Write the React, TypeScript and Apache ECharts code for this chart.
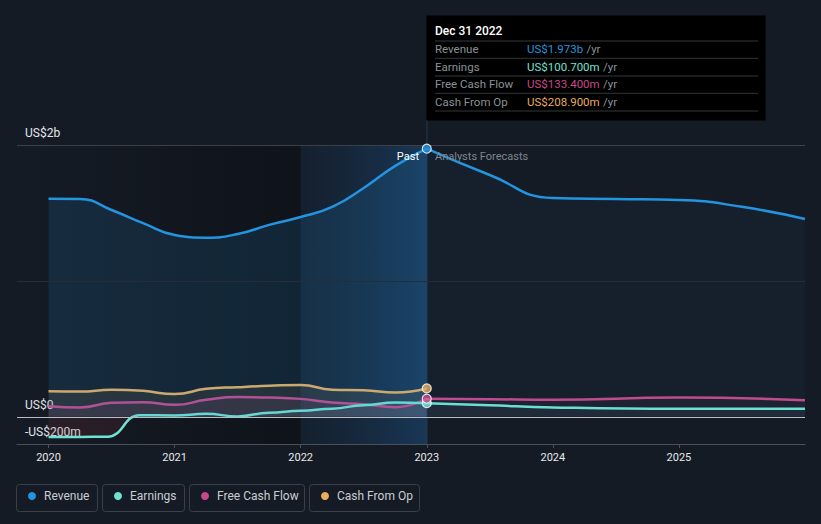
import React, { useEffect, useRef } from "react";
import * as echarts from "echarts";

// ---- data (US$ millions, x = fractional year) ----
const pastYears = [2020, 2020.25, 2020.5, 2020.75, 2021, 2021.25, 2021.5, 2021.75, 2022, 2022.25, 2022.5, 2022.75, 2023];
const revenuePast = [1605, 1603, 1522, 1425, 1338, 1318, 1345, 1412, 1470, 1544, 1684, 1846, 1973];
const cashFromOpPast = [188, 186, 199, 191, 167, 206, 218, 228, 235, 199, 196, 179, 208.9];
const fcfPast = [78, 69, 103, 108, 88, 125, 145, 142, 132, 105, 93, 71, 133.4];
const earningsPastYears = [2020, 2020.25, 2020.47, 2020.72, 2021, 2021.25, 2021.5, 2021.75, 2022, 2022.25, 2022.5, 2022.75, 2023];
const earningsPast = [-148, -148, -146, 12, 10, 22, 3, 30, 44, 60, 86, 106, 100.7];

const revenueFutureYears = [2023, 2023.5, 2024, 2024.5, 2025, 2025.5, 2026];
const revenueFuture = [1973, 1779, 1610, 1603, 1596, 1545, 1456];
const otherFutureYears = [2023, 2023.5, 2024, 2025, 2026];
const fcfFuture = [133.4, 130, 125, 142, 122];
const earningsFuture = [100.7, 85, 69, 59, 59];

const xTickYears = [2020, 2021, 2022, 2023, 2024, 2025];
const yLabelValues = [-200, 0, 2000];
const gridValues = [2000, 1000, 0];

const seriesNames = ["Revenue", "Earnings", "Free Cash Flow", "Cash From Op"];
const seriesColors = ["#2394df", "#6fe3d1", "#c8488a", "#e9ad5e"];
const tooltipTitle = "Dec 31 2022";
const tooltipValues = ["US$1.973b", "US$100.700m", "US$133.400m", "US$208.900m"];

const zip = (xs: number[], ys: number[]) => xs.map((x, i) => [x, ys[i]]);

const FONT = "Roboto, 'Noto Sans', sans-serif";

export default function App() {
  const ref = useRef<HTMLDivElement>(null);
  useEffect(() => {
    if (!ref.current) return;
    const chart = echarts.init(ref.current, null, { renderer: "svg" });

    const earningsGradient = new echarts.graphic.LinearGradient(0, 0, 0, 524, [
      { offset: 0, color: "rgba(111,227,209,0.10)" },
      { offset: 417 / 524, color: "rgba(111,227,209,0.10)" },
      { offset: 417.5 / 524, color: "rgba(200,60,80,0.16)" },
      { offset: 1, color: "rgba(200,60,80,0.16)" },
    ], true);

    const lineBase = (name: string, color: string, data: number[][], area: any, z = 3, monotone = false) => ({
      type: "line",
      name,
      data,
      smooth: 0.5,
      smoothMonotone: monotone ? "x" : undefined,
      symbol: "none",
      z,
      lineStyle: { color, width: 2.5 },
      areaStyle: area,
      silent: true,
    });

    const legendGraphics: any[] = [];
    const boxes = [
      [16.5, 81],
      [102.5, 82],
      [189.5, 115],
      [309.5, 110],
    ];
    boxes.forEach(([bx, bw], i) => {
      legendGraphics.push({
        type: "rect",
        shape: { x: bx, y: 484.5, width: bw, height: 27, r: 3 },
        style: { fill: "transparent", stroke: "#3a414c", lineWidth: 1 },
      });
      legendGraphics.push({
        type: "circle",
        shape: { cx: bx + 15.5, cy: 496, r: 4 },
        style: { fill: seriesColors[i] },
      });
      legendGraphics.push({
        type: "text",
        x: bx + 27.5,
        y: 496,
        style: {
          text: seriesNames[i],
          fill: "#c9cdd3",
          font: `12px ${FONT}`,
          textVerticalAlign: "middle",
        },
      });
    });

    const tipRows: any[] = [];
    const rowYs = [49.3, 66.7, 84.3, 101.7];
    const sepYs = [41, 58.3, 76, 93.3, 111];
    sepYs.forEach((sy) =>
      tipRows.push({
        type: "line",
        shape: { x1: 435, y1: sy, x2: 758, y2: sy },
        style: { stroke: "#333639", lineWidth: 1 },
      })
    );
    seriesNames.forEach((n, i) => {
      tipRows.push({
        type: "text",
        x: 435,
        y: rowYs[i],
        style: { text: n, fill: "#8b9097", font: `11.5px ${FONT}`, textVerticalAlign: "middle" },
      });
      tipRows.push({
        type: "text",
        x: 527,
        y: rowYs[i],
        style: {
          text: `{v|${tooltipValues[i]}} {u|/yr}`,
          textVerticalAlign: "middle",
          rich: {
            v: { fill: seriesColors[i], font: `11.5px ${FONT}` },
            u: { fill: "#8b9097", font: `11.5px ${FONT}` },
          },
        },
      });
    });

    chart.setOption({
      animation: false,
      backgroundColor: "#151b25",
      textStyle: { fontFamily: FONT },
      grid: { left: 17, right: 16, top: 145, bottom: 80, containLabel: false },
      xAxis: {
        type: "value",
        min: 2019.75,
        max: 2026,
        splitLine: { show: false },
        axisLine: { show: true, onZero: false, lineStyle: { color: "#4a505a", width: 1 } },
        axisTick: { show: true, length: 4, customValues: xTickYears, lineStyle: { color: "#4a505a" } },
        axisLabel: {
          customValues: xTickYears,
          color: "#e6e8ea",
          fontSize: 11,
          margin: 8,
          formatter: (v: number) => String(Math.round(v)),
        },
      },
      yAxis: {
        type: "value",
        min: -200,
        max: 2000,
        splitLine: { show: false },
        axisLine: { show: false },
        axisTick: { show: false },
        axisLabel: {
          customValues: yLabelValues,
          inside: true,
          margin: 8,
          color: "#e6e8ea",
          fontSize: 12,
          verticalAlign: "bottom",
          padding: [0, 0, 6, 0],
          formatter: (v: number) => (v === 0 ? "US$0" : v >= 1000 ? `US$${v / 1000}b` : `-US$${Math.abs(v)}m`),
        },
      },
      series: [
        {
          type: "line",
          data: [],
          silent: true,
          markArea: {
            silent: true,
            data: [
              [
                {
                  xAxis: 2019.75,
                  itemStyle: {
                    color: new echarts.graphic.LinearGradient(0, 0, 1, 0, [
                      { offset: 0, color: "rgba(0,0,0,0)" },
                      { offset: 1, color: "rgba(0,0,0,0.3)" },
                    ]),
                  },
                },
                { xAxis: 2022 },
              ],
              [
                {
                  xAxis: 2022,
                  itemStyle: {
                    color: new echarts.graphic.LinearGradient(0, 0, 1, 0, [
                      { offset: 0, color: "rgba(20,60,100,0.15)" },
                      { offset: 1, color: "rgba(30,95,155,0.42)" },
                    ]),
                  },
                },
                { xAxis: 2023 },
              ],
            ],
          },
          z: 1,
        },
        lineBase(seriesNames[0], seriesColors[0], zip(pastYears, revenuePast), { color: "rgba(35,148,223,0.2)" }, 4),
        lineBase(seriesNames[0], seriesColors[0], zip(revenueFutureYears, revenueFuture), { color: "rgba(35,148,223,0.07)" }, 4),
        lineBase(seriesNames[3], seriesColors[3], zip(pastYears, cashFromOpPast), { color: "rgba(233,173,94,0.14)" }, 3),
        lineBase(seriesNames[2], seriesColors[2], zip(pastYears, fcfPast), { color: "rgba(200,72,138,0.16)" }, 3),
        lineBase(seriesNames[2], seriesColors[2], zip(otherFutureYears, fcfFuture), { color: "rgba(200,72,138,0.08)" }, 3),
        lineBase(seriesNames[1], seriesColors[1], zip(earningsPastYears, earningsPast), { color: earningsGradient }, 3, true),
        lineBase(seriesNames[1], seriesColors[1], zip(otherFutureYears, earningsFuture), { color: "rgba(111,227,209,0.06)" }, 3),
        {
          type: "scatter",
          silent: true,
          z: 6,
          symbolSize: 9,
          data: [
            { value: [2023, earningsPast[earningsPast.length - 1]], itemStyle: { color: seriesColors[1] } },
            { value: [2023, fcfPast[fcfPast.length - 1]], itemStyle: { color: seriesColors[2] } },
            { value: [2023, cashFromOpPast[cashFromOpPast.length - 1]], itemStyle: { color: seriesColors[3] } },
            { value: [2023, revenuePast[revenuePast.length - 1]], itemStyle: { color: seriesColors[0] } },
          ],
          itemStyle: { borderColor: "#ffffff", borderWidth: 1.2 },
          markLine: {
            silent: true,
            symbol: "none",
            label: { show: false },
            data: gridValues.map((g) => ({
              yAxis: g,
              lineStyle: {
                type: "solid",
                width: 1,
                color: g === 0 ? "#b9bdc2" : g === 2000 ? "#3a414b" : "#262d37",
              },
            })),
          },
        },
      ],
      graphic: [
        {
          type: "line",
          z: 5,
          shape: { x1: 427, y1: 120, x2: 427, y2: 444 },
          style: { stroke: "rgba(40,85,130,0.55)", lineWidth: 1 },
        },
        {
          type: "text",
          x: 419,
          y: 156,
          z: 10,
          style: { text: "Past", fill: "#ffffff", font: `11px ${FONT}`, textAlign: "right", textVerticalAlign: "middle" },
        },
        {
          type: "text",
          x: 435,
          y: 156,
          z: 10,
          style: { text: "Analysts Forecasts", fill: "#7e858e", font: `11px ${FONT}`, textVerticalAlign: "middle" },
        },
        {
          type: "rect",
          z: 20,
          shape: { x: 426.5, y: 15.5, width: 339, height: 105 },
          style: { fill: "#000000" },
        },
        {
          type: "text",
          z: 21,
          x: 435,
          y: 31,
          style: { text: tooltipTitle, fill: "#ffffff", font: `500 12px ${FONT}`, textVerticalAlign: "middle" },
        },
        ...tipRows.map((g) => ({ ...g, z: 21 })),
        ...legendGraphics,
      ],
    });
    return () => chart.dispose();
  }, []);
  return <div ref={ref} style={{ width: 821, height: 524, position: "absolute", left: 0, top: 0 }} />;
}
